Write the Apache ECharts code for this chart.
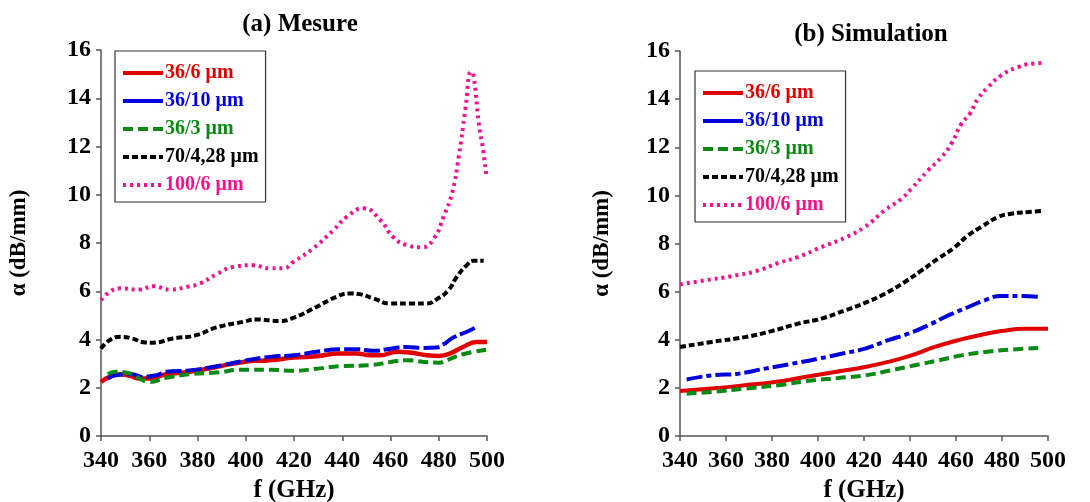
<!DOCTYPE html>
<html>
<head>
    <meta charset="utf-8">
    <title>α (dB/mm) - Mesure / Simulation</title>
    <script src="https://cdn.jsdelivr.net/npm/echarts@6/dist/echarts.min.js"></script>
    <style>
        html, body { margin: 0; padding: 0; background: #fff; }
        #chart1 { width: 1090px; height: 502px; }
    </style>
</head>
<body>
<div id="chart1"></div>
<script type="text/javascript">
    // noms des courbes
    var names = ['36/6 μm', '36/10 μm', '36/3 μm', '70/4,28 μm', '100/6 μm'];
    var xTicks = [340, 360, 380, 400, 420, 440, 460, 480, 500];
    var yTicks = [0, 2, 4, 6, 8, 10, 12, 14, 16];

    // (a) Mesure
    var mesF_36_6 = [340, 343.5, 348, 352, 356, 360, 367, 376.7, 387.8, 398.9, 410, 420, 429.3, 439, 446, 451.5, 455.7, 462.6, 468, 475, 480, 484, 490, 495.8, 500];
    var mesA_36_6 = [2.24, 2.45, 2.56, 2.49, 2.38, 2.38, 2.56, 2.66, 2.86, 3.07, 3.14, 3.25, 3.31, 3.42, 3.42, 3.35, 3.35, 3.49, 3.46, 3.35, 3.32, 3.39, 3.69, 3.9, 3.9];
    var mesF_36_10 = [342.8, 346, 353, 357, 363, 367, 376.7, 387.8, 398.9, 410, 420, 429.3, 439, 446, 453, 460, 466.7, 473.7, 479, 482, 486, 491.7, 495.8];
    var mesA_36_10 = [2.38, 2.52, 2.56, 2.45, 2.52, 2.66, 2.72, 2.89, 3.11, 3.28, 3.35, 3.49, 3.6, 3.6, 3.53, 3.62, 3.69, 3.65, 3.67, 3.8, 4.08, 4.32, 4.52];
    var mesF_36_3 = [342.8, 346, 352, 356, 360, 367, 376.7, 387.8, 398.9, 410, 420, 429.3, 439, 453, 460, 466.7, 473.7, 480, 484, 490, 500];
    var mesA_36_3 = [2.56, 2.66, 2.59, 2.38, 2.24, 2.41, 2.56, 2.63, 2.75, 2.75, 2.7, 2.79, 2.89, 2.95, 3.07, 3.14, 3.07, 3.04, 3.17, 3.39, 3.58];
    var mesF_70 = [340, 343.5, 348, 353, 357, 361.5, 369.8, 379.5, 387.8, 398.9, 404.4, 414, 420, 429.3, 437.6, 443, 447, 453, 460, 468, 475, 479, 484, 487.5, 491.6, 494.4, 498.6];
    var mesA_70 = [3.62, 3.97, 4.11, 4.04, 3.9, 3.87, 4.04, 4.18, 4.5, 4.73, 4.83, 4.77, 4.91, 5.35, 5.77, 5.91, 5.88, 5.7, 5.49, 5.49, 5.49, 5.66, 6.04, 6.6, 7.08, 7.26, 7.26];
    var mesF_100 = [340, 343.7, 347.9, 356, 361.7, 368.6, 375.6, 381, 388, 394.9, 403, 410, 415.6, 419.8, 428, 436.4, 442, 448.8, 455.8, 461, 466.8, 473, 478, 482, 485.5, 488.3, 491, 493.4, 494.5, 496.6, 498.4, 499.7];
    var mesA_100 = [5.63, 5.98, 6.12, 6.07, 6.21, 6.07, 6.18, 6.32, 6.71, 7.01, 7.08, 6.95, 6.95, 7.22, 7.78, 8.54, 9.09, 9.44, 8.95, 8.26, 7.91, 7.82, 8.19, 9.09, 10.06, 11.58, 13.51, 15.1, 14.9, 12.96, 11.85, 10.82];

    // (b) Simulation
    var simF_36_6 = [340, 353.8, 368.2, 381.3, 394.3, 407.3, 420.4, 430.5, 440.6, 450.8, 460.9, 469.6, 479.7, 489.9, 500];
    var simA_36_6 = [1.87, 1.97, 2.11, 2.24, 2.45, 2.66, 2.87, 3.08, 3.35, 3.7, 3.98, 4.18, 4.36, 4.46, 4.46];
    var simF_36_10 = [342.9, 353.8, 365.3, 376.9, 388.5, 400, 411.7, 420.4, 430.5, 439.2, 447.9, 456.6, 465.3, 472.5, 479.7, 487, 497.1];
    var simA_36_10 = [2.35, 2.52, 2.59, 2.8, 3.0, 3.21, 3.45, 3.63, 3.98, 4.25, 4.6, 5.01, 5.36, 5.64, 5.82, 5.82, 5.78];
    var simF_36_3 = [342.9, 353.8, 368.2, 382.7, 397.2, 408.8, 420.4, 431.9, 442.1, 452.2, 462.4, 472.5, 484.1, 497.1];
    var simA_36_3 = [1.76, 1.83, 1.97, 2.11, 2.31, 2.41, 2.52, 2.73, 2.94, 3.14, 3.35, 3.49, 3.59, 3.66];
    var simF_70 = [340, 353.8, 368.2, 379.8, 391.4, 401.5, 411.7, 420.4, 429, 437.7, 445, 452.2, 459.5, 465.3, 471, 478.3, 484.1, 491.3, 497.8];
    var simA_70 = [3.7, 3.91, 4.11, 4.36, 4.67, 4.88, 5.22, 5.53, 5.91, 6.4, 6.88, 7.37, 7.85, 8.34, 8.69, 9.1, 9.24, 9.31, 9.35];
    var simF_100 = [340, 350.9, 362.4, 374, 382.7, 391.4, 401.5, 411.7, 420.4, 429, 436.3, 440.6, 447.9, 453.7, 458, 462.4, 466, 469.6, 474, 479.7, 487, 492.8, 498.6];
    var simA_100 = [6.3, 6.47, 6.64, 6.88, 7.19, 7.44, 7.85, 8.24, 8.69, 9.38, 9.86, 10.28, 11.04, 11.59, 12.15, 12.98, 13.39, 14.02, 14.5, 14.99, 15.33, 15.47, 15.5];

    var colors = ['#e00000', '#0000dd', '#0a8a14', '#000000', '#f0148c'];
    var dashes = ['solid', [16, 4], [10, 5], [6, 3], [3, 4]];
    var dashesSim = ['solid', [16, 4, 5, 4], [10, 5], [6, 3], [3, 4]];
    // traits de la légende : le bleu y est plein
    var dashesLeg = ['solid', 'solid', [10, 5], [6, 3], [3, 4]];

    var police = '"Liberation Serif", "DejaVu Serif", serif';

    function paires(fs, as) {
        var r = [];
        for (var i = 0; i < fs.length; i++) r.push([fs[i], as[i]]);
        return r;
    }

    var mesData = [paires(mesF_36_6, mesA_36_6), paires(mesF_36_10, mesA_36_10), paires(mesF_36_3, mesA_36_3), paires(mesF_70, mesA_70), paires(mesF_100, mesA_100)];
    var simData = [paires(simF_36_6, simA_36_6), paires(simF_36_10, simA_36_10), paires(simF_36_3, simA_36_3), paires(simF_70, simA_70), paires(simF_100, simA_100)];

    function axeX(idx) {
        return {
            type: 'value', gridIndex: idx, min: xTicks[0], max: xTicks[xTicks.length - 1], interval: 20,
            name: 'f (GHz)', nameLocation: 'middle', nameGap: 42,
            nameTextStyle: {fontFamily: police, fontWeight: 'bold', fontSize: 25, color: '#000'},
            axisLine: {show: true, lineStyle: {color: '#555', width: 1.5}},
            axisTick: {show: true, length: 5, lineStyle: {color: '#555', width: 1.5}},
            axisLabel: {fontFamily: police, fontWeight: 'bold', fontSize: 24, color: '#000', margin: 13},
            splitLine: {show: false}
        };
    }

    function axeY(idx, gap) {
        return {
            type: 'value', gridIndex: idx, min: yTicks[0], max: yTicks[yTicks.length - 1], interval: 2,
            name: 'α (dB/mm)', nameLocation: 'middle', nameGap: gap,
            nameTextStyle: {fontFamily: police, fontWeight: 'bold', fontSize: 23, color: '#000'},
            axisLine: {show: true, lineStyle: {color: '#555', width: 1.5}},
            axisTick: {show: true, length: 5, lineStyle: {color: '#555', width: 1.5}},
            axisLabel: {fontFamily: police, fontWeight: 'bold', fontSize: 24, color: '#000', margin: 10},
            splitLine: {show: false}
        };
    }

    function legende(idx, left, top, styles) {
        return {
            orient: 'vertical', left: left, top: top,
            data: names.map(function (n, i) {
                return {
                    name: n, textStyle: {color: colors[i]},
                    lineStyle: {color: colors[i], width: 4, type: styles[i]}
                };
            }),
            itemWidth: 40, itemHeight: 12, itemGap: 8,
            itemStyle: {opacity: 0},
            padding: [12, 7, 7, 6],
            borderColor: '#333', borderWidth: 1.2,
            textStyle: {fontFamily: police, fontWeight: 'bold', fontSize: 20, padding: [0, 0, 0, -3]},
            // la légende ne montre que les séries de son graphe
            seriesIndex: idx
        };
    }

    var series = [];
    for (var i = 0; i < 5; i++) {
        series.push({
            name: names[i], type: 'line', xAxisIndex: 0, yAxisIndex: 0,
            data: mesData[i], smooth: true, symbol: 'none',
            lineStyle: {color: colors[i], width: i === 0 ? 4.5 : 4, type: dashes[i]},
            itemStyle: {color: colors[i]}
        });
    }
    for (var j = 0; j < 5; j++) {
        series.push({
            name: names[j], type: 'line', xAxisIndex: 1, yAxisIndex: 1,
            data: simData[j], smooth: true, symbol: 'none',
            lineStyle: {color: colors[j], width: 4, type: dashesSim[j]},
            itemStyle: {color: colors[j]}
        });
    }

    var myChart1 = echarts.init(document.getElementById('chart1'));
    myChart1.setOption({
        animation: false,
        backgroundColor: '#fff',
        title: [
            {text: '(a) Mesure', left: 295, top: 7, textAlign: 'center',
                textStyle: {fontFamily: police, fontWeight: 'bold', fontSize: 25, color: '#000'}},
            {text: '(b) Simulation', left: 866, top: 17, textAlign: 'center',
                textStyle: {fontFamily: police, fontWeight: 'bold', fontSize: 25, color: '#000'}}
        ],
        legend: [legende(0, 115, 51, dashesLeg), legende(1, 695, 71, dashesLeg)],
        grid: [
            {left: 101, top: 50, width: 386, height: 386, outerBoundsMode: 'none'},
            {left: 680, top: 51, width: 368, height: 385, outerBoundsMode: 'none'}
        ],
        xAxis: [axeX(0), axeX(1)],
        yAxis: [axeY(0, 70), axeY(1, 66)],
        series: series
    });
</script>
</body>
</html>
